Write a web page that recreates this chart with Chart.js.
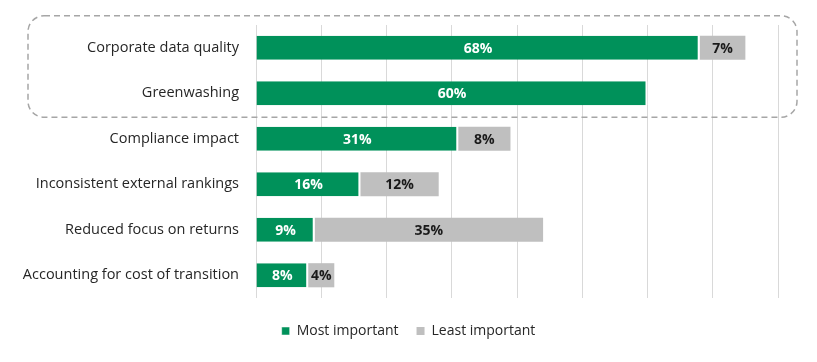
<!DOCTYPE html>
<html>
<head>
<meta charset="utf-8">
<script src="https://cdn.jsdelivr.net/npm/chart.js@4"></script>
<style>
  html, body { margin: 0; padding: 0; background: #fff; }
  #wrap { width: 817px; height: 362px; }
</style>
</head>
<body>
<div id="wrap"><canvas id="myChart"></canvas></div>
<script>
const categories = [
    'Corporate data quality',
    'Greenwashing',
    'Compliance impact',
    'Inconsistent external rankings',
    'Reduced focus on returns',
    'Accounting for cost of transition',
];
const mostImportant = [68, 60, 31, 16, 9, 8];
const leastImportant = [7, 0, 8, 12, 35, 4];
const seriesNames = ['Most important', 'Least important'];

const GREEN = '#00915A';
const GREY = '#BFBFBF';
const FONT = "'Open Sans', 'Noto Sans', sans-serif";

// value labels inside each bar segment
const barLabels = {
    id: 'barLabels',
    afterDatasetsDraw(chart) {
        const ctx = chart.ctx;
        ctx.save();
        ctx.font = 'bold 14px ' + FONT;
        ctx.textAlign = 'center';
        ctx.textBaseline = 'middle';
        chart.data.datasets.forEach((ds, i) => {
            chart.getDatasetMeta(i).data.forEach((bar, j) => {
                const v = ds.data[j];
                if (!v) return;
                ctx.fillStyle = i === 0 ? '#ffffff' : '#1a1a1a';
                ctx.fillText(v + '%', (bar.x + bar.base) / 2, bar.y + 1);
            });
        });
        ctx.restore();
    },
};

// dashed rounded box round the first two categories
const highlightBox = {
    id: 'highlightBox',
    afterDraw(chart) {
        const ctx = chart.ctx;
        const y = chart.scales.y;
        const area = chart.chartArea;
        const top = y.getPixelForValue(0) - 32;
        const bottom = y.getPixelForValue(1) + 24;
        const left = area.left - 228;
        const right = area.right + 19;
        ctx.save();
        ctx.strokeStyle = '#a6a6a6';
        ctx.lineWidth = 1.5;
        ctx.setLineDash([6, 4]);
        ctx.beginPath();
        ctx.roundRect(left, top, right - left, bottom - top, 16);
        ctx.stroke();
        ctx.restore();
    },
};

// centre the legend on the whole canvas, not on the padded box
const centerLegend = {
    id: 'centerLegend',
    afterLayout(chart) {
        chart.legend.left = 0;
        chart.legend.right = chart.width;
    },
};

const ctx = document.getElementById('myChart').getContext('2d');
const myChart = new Chart(ctx, {
    type: 'bar',
    data: {
        labels: categories,
        datasets: [
            {
                label: seriesNames[0],
                data: mostImportant,
                backgroundColor: GREEN,
                borderColor: '#ffffff',
                borderWidth: { right: 2, left: 0, top: 0, bottom: 0 },
                borderSkipped: false,
                categoryPercentage: 0.53,
                barPercentage: 1,
            },
            {
                label: seriesNames[1],
                data: leastImportant,
                backgroundColor: GREY,
                borderWidth: 0,
                categoryPercentage: 0.53,
                barPercentage: 1,
            },
        ],
    },
    options: {
        indexAxis: 'y',
        responsive: true,
        maintainAspectRatio: false,
        animation: false,
        layout: { padding: { top: 25, right: 39, bottom: 14, left: 0 } },
        scales: {
            x: {
                stacked: true,
                min: 0,
                max: 80,
                ticks: { display: false, stepSize: 10 },
                grid: { color: '#d9d9d9', drawTicks: false },
                border: { display: false },
                afterFit(s) { s.height = 8; },
            },
            y: {
                stacked: true,
                grid: { display: false },
                border: { display: false },
                ticks: {
                    color: '#262626',
                    padding: 9,
                    font: { family: FONT, size: 14.5 },
                },
                afterFit(s) { s.width = 256; },
            },
        },
        plugins: {
            legend: {
                position: 'bottom',
                labels: {
                    boxWidth: 8,
                    boxHeight: 8,
                    padding: 18,
                    color: '#262626',
                    font: { family: FONT, size: 14 },
                },
            },
            tooltip: { enabled: false },
        },
    },
    plugins: [barLabels, highlightBox, centerLegend],
});
</script>
</body>
</html>
